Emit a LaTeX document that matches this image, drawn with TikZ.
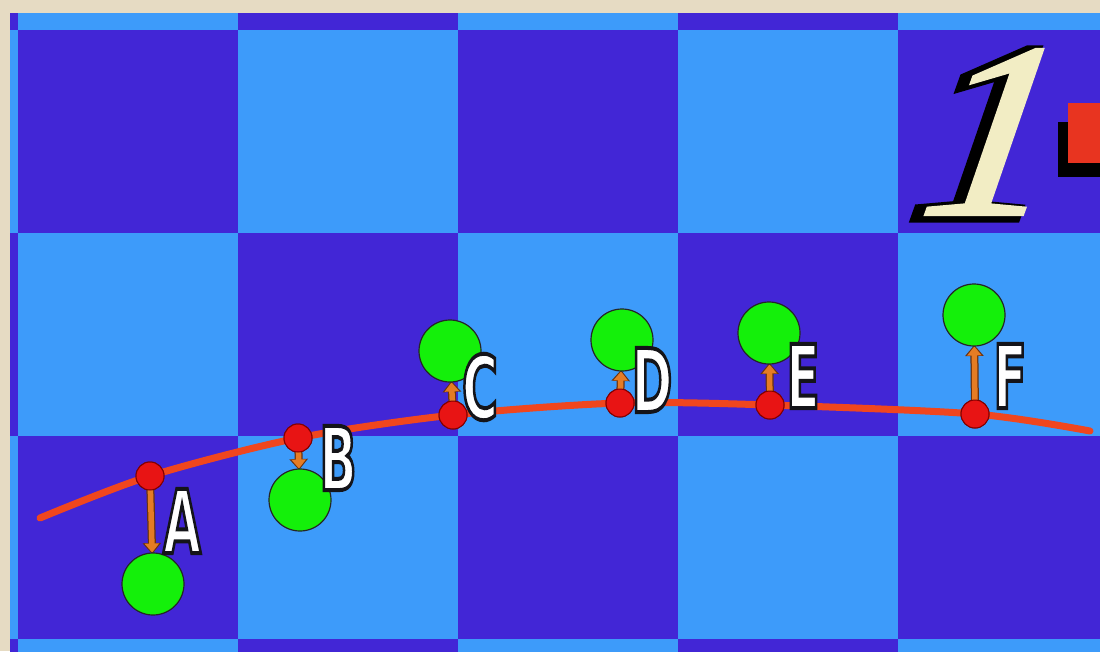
\documentclass[tikz,border=0pt]{standalone}
\usepackage{fontspec}
\usetikzlibrary{arrows.meta}
\newfontfamily\tagfont{DejaVu Sans Condensed}
\newfontfamily\digitfont{Liberation Serif}
\definecolor{paper}{HTML}{E6DBC3}
\definecolor{deep}{HTML}{4226D6}
\definecolor{sky}{HTML}{3D9BFA}
\definecolor{ballgreen}{HTML}{14F00A}
\definecolor{knotred}{HTML}{E81414}
\definecolor{pushorange}{HTML}{E57C24}
\definecolor{pushedge}{HTML}{6A3210}
\definecolor{curvered}{HTML}{F0461E}
\definecolor{cream}{HTML}{F2EDC4}
\definecolor{flagred}{HTML}{E83420}
% text filled and stroked: {width}{stroke rgb}{text}
\newcommand\stroked[3]{\special{pdf:literal direct 2 Tr #1 w #2 RG}#3\special{pdf:literal direct 0 Tr}}
\tikzset{
  knot/.style={circle,draw=red!50!black,fill=knotred,minimum size=28pt,inner sep=0pt,line width=1pt},
  ball/.style={circle,draw=black!85,fill=ballgreen,minimum size=62pt,inner sep=0pt,line width=1.2pt},
  lbl/.style={text=white,inner sep=0pt,xscale=0.62,font=\tagfont\bfseries\fontsize{88}{88}\selectfont},
  shove/.style={draw=pushorange,line width=5.5pt,-{Triangle[length=9pt,width=14pt]}},
  shoveedge/.style={draw=pushedge,line width=8pt,-{Triangle[length=11pt,width=18pt]}},
  digit/.style={inner sep=0pt,xslant=0.15,xscale=1.1,font=\digitfont\itshape\fontsize{250}{250}\selectfont}
}
\begin{document}
\begin{tikzpicture}[x=1pt,y=-1pt]
  \useasboundingbox (0,0) rectangle (1100,651);
  \fill[paper] (0,0) rectangle (1100,651);
  % board
  \begin{scope}
    \clip (10,13) rectangle (1100,651);
    \foreach \c in {-1,...,4} {
      \foreach \r in {-1,...,3} {
        \pgfmathtruncatemacro\s{\c+\r}
        \ifodd\s \def\cellcol{sky}\else \def\cellcol{deep}\fi
        \fill[\cellcol] (18+220*\c,30+203*\r) rectangle +(220,203);
      }
    }
  \end{scope}
  % level number
  \node[digit,text=black] (shade) at (989,134) {\stroked{12}{0 0 0}{1}};
  \node[digit,text=cream] (one) at (997,132) {\stroked{3}{0.95 0.93 0.77}{1}};
  \fill[black] (1058,122) rectangle (1100,177);
  \fill[flagred] (1068,103) rectangle (1100,163);
  % curve
  \foreach \n/\x/\y in {A/150/476,B/298/438,C/453/415,D/620/403,E/770/405,F/975/414}
    \coordinate (c\n) at (\x,\y);
  \coordinate (cs) at (40,518);
  \coordinate (ce) at (1090,431);
  \draw[curvered,line width=7pt,line cap=round] plot[smooth] coordinates {(cs) (cA) (cB) (cC) (cD) (cE) (cF) (ce)};
  % points, arrows, balls
  \foreach \n in {A,...,F}
    \node[knot] (p\n) at (c\n) {};
  \foreach \n/\x/\y in {A/153/584,B/300/500,C/450/351,D/622/340,E/769/333,F/974/315}
    \coordinate (b\n) at (\x,\y);
  \foreach \n in {A,...,F} {
    \draw[shoveedge,shorten <=10pt,shorten >=30pt] (c\n) -- (b\n);
    \draw[shove,shorten <=10pt,shorten >=31.5pt] (c\n) -- (b\n);
  }
  \foreach \n in {A,...,F}
    \node[ball] (g\n) at (b\n) {};
  \foreach \n in {A,...,F}
    \node[knot] at (c\n) {};
  % labels
  \foreach \n/\x/\y in {A/182/521,B/338/458,C/480/387,D/652/380,E/803/376,F/1010/376}
    \node[lbl] (l\n) at (\x,\y) {\stroked{4}{0.08 0.08 0.1}{\n}};
\end{tikzpicture}
\end{document}
